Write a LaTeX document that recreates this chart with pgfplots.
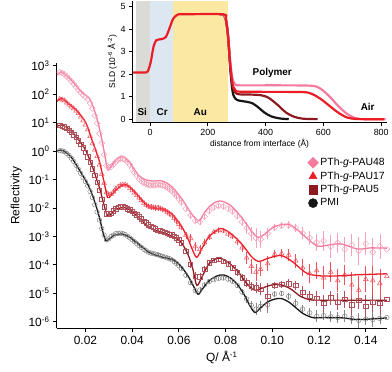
\documentclass[border=0pt]{standalone}
\usepackage{fontspec}
\setmainfont{Liberation Sans}
\usepackage{pgfplots}
\usepackage{pgfplotstable}
\pgfplotsset{compat=1.18}

\definecolor{pinkln}{HTML}{F47A9E}
\definecolor{pinkmk}{HTML}{F6A3BA}
\definecolor{redln}{HTML}{EC1C26}
\definecolor{redmk}{HTML}{F0505C}
\definecolor{dredln}{HTML}{8C1A1E}
\definecolor{dredmk}{HTML}{B0505A}
\definecolor{blkln}{HTML}{161616}
\definecolor{blkmk}{HTML}{858585}
\definecolor{sigray}{HTML}{DADAD6}
\definecolor{crblue}{HTML}{DCE7F1}
\definecolor{auyel}{HTML}{FBE8A2}

% Q, log10(R), log10 half-width of error bar
\pgfplotstableread{
Q L E
0.009 0.02 0
0.011 -0.02 0
0.013 -0.15 0
0.015 -0.36 0
0.017 -0.64 0
0.019 -0.93 0
0.021 -1.22 0
0.023 -1.63 0
0.025 -2.14 0
0.027 -2.72 0
0.029 -3.12 0
0.031 -3.00 0
0.033 -2.90 0.03
0.035 -2.88 0.03
0.037 -2.93 0.03
0.039 -3.05 0.03
0.041 -3.18 0.03
0.043 -3.32 0.03
0.045 -3.45 0.04
0.047 -3.55 0.04
0.049 -3.60 0.04
0.051 -3.64 0.05
0.053 -3.70 0.05
0.055 -3.75 0.05
0.057 -3.82 0.05
0.059 -3.95 0.05
0.061 -4.12 0.06
0.063 -4.36 0.06
0.065 -4.62 0.08
0.067 -4.90 0.1
0.069 -4.88 0.1
0.071 -4.70 0.08
0.073 -4.58 0.06
0.075 -4.52 0.06
0.077 -4.47 0.06
0.079 -4.46 0.06
0.081 -4.50 0.07
0.083 -4.58 0.07
0.085 -4.72 0.08
0.087 -4.95 0.1
0.089 -5.20 0.12
0.091 -5.42 0.15
0.093 -5.55 0.2
0.095 -5.45 0.2
0.098 -5.40 0.3
0.101 -5.02 0.1
0.104 -5.00 0.1
0.107 -5.10 0.12
0.110 -5.35 0.15
0.113 -5.55 0.15
0.116 -5.68 0.15
0.119 -5.80 0.2
0.122 -5.78 0.15
0.125 -5.82 0.2
0.128 -5.85 0.2
0.131 -5.80 0.2
0.134 -5.88 0.2
0.137 -5.95 0.25
0.140 -5.90 0.2
0.143 -5.92 0.25
0.146 -5.88 0.2
0.149 -5.85 0.25
0.010 0.01 0
0.012 -0.08 0
0.014 -0.25 0
0.016 -0.50 0
0.018 -0.78 0
0.020 -1.07 0
0.022 -1.42 0
0.024 -1.88 0
0.026 -2.42 0
0.028 -2.95 0
0.030 -3.08 0.03
0.032 -2.95 0.03
0.034 -2.89 0.03
0.036 -2.90 0.03
0.038 -2.99 0.03
0.040 -3.11 0.03
0.042 -3.25 0.03
0.044 -3.38 0.04
0.046 -3.50 0.04
0.048 -3.58 0.04
0.050 -3.62 0.05
0.052 -3.67 0.05
0.054 -3.72 0.05
0.056 -3.78 0.05
0.058 -3.88 0.05
0.060 -4.03 0.06
}\pmidata

\pgfplotstableread{
Q L E
0.009 0.90 0
0.011 0.86 0
0.013 0.74 0
0.015 0.58 0
0.017 0.36 0
0.019 0.12 0
0.021 -0.20 0
0.023 -0.62 0
0.025 -1.10 0
0.027 -1.68 0
0.029 -2.20 0.04
0.031 -2.18 0.04
0.033 -2.02 0.04
0.035 -1.96 0.04
0.037 -1.98 0.04
0.039 -2.06 0.05
0.041 -2.18 0.05
0.043 -2.30 0.05
0.045 -2.46 0.06
0.047 -2.58 0.06
0.049 -2.68 0.06
0.051 -2.78 0.07
0.053 -2.82 0.07
0.055 -2.88 0.07
0.057 -2.94 0.08
0.059 -3.04 0.08
0.061 -3.22 0.08
0.063 -3.52 0.1
0.065 -3.98 0.12
0.067 -4.40 0.15
0.069 -4.42 0.15
0.071 -4.15 0.1
0.073 -3.92 0.08
0.075 -3.83 0.08
0.077 -3.80 0.08
0.079 -3.86 0.08
0.081 -3.96 0.1
0.083 -4.10 0.1
0.085 -4.26 0.12
0.087 -4.45 0.12
0.089 -4.62 0.15
0.091 -4.75 0.15
0.093 -4.80 0.2
0.095 -4.85 0.2
0.098 -5.10 0.45
0.101 -4.72 0.12
0.104 -4.68 0.12
0.107 -4.66 0.15
0.110 -4.72 0.15
0.113 -4.95 0.2
0.116 -5.10 0.2
0.119 -5.18 0.25
0.122 -5.35 0.3
0.125 -5.15 0.25
0.128 -5.30 0.3
0.131 -5.20 0.3
0.134 -5.40 0.35
0.137 -5.25 0.3
0.140 -5.45 0.4
0.143 -5.30 0.35
0.146 -5.35 0.4
0.149 -5.20 0.3
0.010 0.88 0
0.012 0.81 0
0.014 0.66 0
0.016 0.48 0
0.018 0.25 0
0.020 -0.03 0
0.022 -0.40 0
0.024 -0.85 0
0.026 -1.38 0
0.028 -1.95 0
0.030 -2.20 0.04
0.032 -2.10 0.04
0.034 -1.98 0.04
0.036 -1.96 0.04
0.038 -2.02 0.04
0.040 -2.12 0.05
0.042 -2.24 0.05
0.044 -2.38 0.05
0.046 -2.52 0.06
0.048 -2.63 0.06
0.050 -2.73 0.06
0.052 -2.80 0.07
0.054 -2.85 0.07
0.056 -2.91 0.07
0.058 -2.99 0.08
0.060 -3.12 0.08
}\paufivedata

\pgfplotstableread{
Q L E
0.009 1.83 0
0.011 1.78 0
0.013 1.63 0
0.015 1.50 0
0.017 1.33 0
0.019 1.08 0
0.021 0.76 0
0.023 0.27 0
0.025 -0.18 0
0.027 -0.80 0
0.029 -1.45 0.05
0.031 -1.52 0.05
0.033 -1.32 0.04
0.035 -1.20 0.04
0.037 -1.18 0.04
0.039 -1.30 0.05
0.041 -1.46 0.05
0.043 -1.64 0.06
0.045 -1.82 0.07
0.047 -1.95 0.1
0.049 -1.98 0.1
0.051 -2.00 0.1
0.053 -2.05 0.08
0.055 -2.14 0.08
0.057 -2.26 0.08
0.059 -2.45 0.1
0.061 -2.68 0.1
0.063 -2.95 0.12
0.065 -3.05 0.15
0.067 -3.35 0.15
0.069 -3.45 0.15
0.071 -3.22 0.12
0.073 -3.02 0.1
0.075 -2.84 0.08
0.077 -2.78 0.08
0.079 -2.80 0.08
0.081 -2.90 0.1
0.083 -3.00 0.1
0.085 -3.18 0.12
0.087 -3.40 0.15
0.089 -3.75 0.2
0.091 -4.05 0.25
0.093 -4.25 0.3
0.095 -4.15 0.25
0.098 -3.95 0.25
0.101 -3.62 0.15
0.104 -3.60 0.15
0.107 -3.65 0.2
0.110 -3.85 0.25
0.113 -4.10 0.3
0.116 -4.30 0.35
0.119 -4.20 0.3
0.122 -4.45 0.4
0.125 -4.25 0.35
0.128 -4.55 0.4
0.131 -4.35 0.35
0.134 -4.70 0.45
0.137 -4.88 0.5
0.140 -4.50 0.45
0.143 -4.55 0.5
0.146 -4.65 0.5
0.149 -4.40 0.45
0.010 1.81 0
0.012 1.70 0
0.014 1.56 0
0.016 1.42 0
0.018 1.21 0
0.020 0.93 0
0.022 0.52 0
0.024 0.05 0
0.026 -0.48 0
0.028 -1.12 0
0.030 -1.52 0.05
0.032 -1.43 0.05
0.034 -1.25 0.04
0.036 -1.18 0.04
0.038 -1.23 0.04
0.040 -1.38 0.05
0.042 -1.55 0.05
0.044 -1.73 0.06
0.046 -1.89 0.08
0.048 -1.97 0.1
0.050 -1.99 0.1
0.052 -2.02 0.08
0.054 -2.09 0.08
0.056 -2.20 0.08
0.058 -2.35 0.1
0.060 -2.56 0.1
}\pauseventeendata

\pgfplotstableread{
Q L E
0.009 2.78 0
0.011 2.70 0
0.013 2.55 0
0.015 2.36 0
0.017 2.15 0
0.019 1.97 0
0.021 1.82 0
0.023 1.50 0
0.025 0.98 0
0.027 0.28 0
0.029 -0.50 0.04
0.031 -0.55 0.04
0.033 -0.38 0.04
0.035 -0.26 0.04
0.037 -0.30 0.04
0.039 -0.48 0.05
0.041 -0.75 0.05
0.043 -0.98 0.05
0.045 -1.12 0.06
0.047 -1.18 0.07
0.049 -1.20 0.07
0.051 -1.18 0.07
0.053 -1.20 0.07
0.055 -1.28 0.07
0.057 -1.40 0.08
0.059 -1.58 0.08
0.061 -1.80 0.1
0.063 -2.02 0.1
0.065 -2.25 0.12
0.067 -2.45 0.12
0.069 -2.48 0.12
0.071 -2.30 0.1
0.073 -2.10 0.1
0.075 -1.98 0.08
0.077 -1.92 0.08
0.079 -1.94 0.08
0.081 -2.02 0.1
0.083 -2.12 0.1
0.085 -2.28 0.12
0.087 -2.48 0.15
0.089 -2.70 0.2
0.091 -2.90 0.25
0.093 -3.05 0.35
0.095 -3.10 0.3
0.098 -2.90 0.2
0.101 -2.68 0.12
0.104 -2.62 0.12
0.107 -2.60 0.15
0.110 -2.70 0.15
0.113 -2.88 0.2
0.116 -3.05 0.25
0.119 -3.20 0.3
0.122 -3.15 0.35
0.125 -3.35 0.4
0.128 -3.22 0.35
0.131 -3.45 0.45
0.134 -3.30 0.4
0.137 -3.50 0.5
0.140 -3.25 0.4
0.143 -3.55 0.5
0.146 -3.35 0.45
0.149 -3.45 0.4
0.010 2.75 0
0.012 2.63 0
0.014 2.46 0
0.016 2.26 0
0.018 2.06 0
0.020 1.90 0
0.022 1.68 0
0.024 1.25 0
0.026 0.62 0
0.028 -0.12 0
0.030 -0.56 0.04
0.032 -0.47 0.04
0.034 -0.31 0.04
0.036 -0.27 0.04
0.038 -0.38 0.04
0.040 -0.62 0.05
0.042 -0.87 0.05
0.044 -1.06 0.05
0.046 -1.16 0.06
0.048 -1.20 0.07
0.050 -1.19 0.07
0.052 -1.19 0.07
0.054 -1.24 0.07
0.056 -1.34 0.07
0.058 -1.49 0.08
0.060 -1.69 0.08
}\paufortyeightdata

\begin{document}
\begin{tikzpicture}
\path (0,0) rectangle (392pt,373pt);

\begin{axis}[
  at={(57.3pt,43pt)}, anchor=south west,
  scale only axis, width=332.2pt, height=267pt,
  xmin=0.0078, xmax=0.149, ymin=-6.23, ymax=3.09,
  axis x line*=bottom, axis y line*=left,
  axis line style={line width=1pt},
  tick align=outside, major tick length=4pt,
  tick style={line width=1pt,black},
  xtick={0.02,0.04,0.06,0.08,0.10,0.12,0.14},
  xticklabels={0.02,0.04,0.06,0.08,0.10,0.12,0.14},
  ytick={-6,-5,-4,-3,-2,-1,0,1,2,3},
  yticklabels={10\textsuperscript{-6},10\textsuperscript{-5},10\textsuperscript{-4},10\textsuperscript{-3},10\textsuperscript{-2},10\textsuperscript{-1},10\textsuperscript{0},10\textsuperscript{1},10\textsuperscript{2},10\textsuperscript{3}},
  tick label style={font=\fontsize{12}{14}\selectfont},
  xlabel={Q/ Å\textsuperscript{-1}}, ylabel={Reflectivity},
  label style={font=\fontsize{12}{14}\selectfont},
  legend style={at={(1,0.65)}, anchor=north east, draw=none, fill=none,
    font=\fontsize{10.5}{12}\selectfont, row sep=0.5pt, inner sep=0pt},
  legend cell align=left,
  error bars/error mark=none,
]
\addlegendimage{only marks, mark=square*, mark size=3.9pt, mark options={rotate=45, fill=pinkln, draw=pinkln}}
\addlegendentry{PTh-\textit{g}-PAU48}
\addlegendimage{only marks, mark=triangle*, mark size=4.6pt, mark options={fill=redln, draw=redln}}
\addlegendentry{PTh-\textit{g}-PAU17}
\addlegendimage{only marks, mark=square*, mark size=4.3pt, mark options={fill=dredln, draw=dredln}}
\addlegendentry{PTh-\textit{g}-PAU5}
\addlegendimage{only marks, mark=*, mark size=4.6pt, mark options={fill=blkln, draw=blkln}}
\addlegendentry{PMI}

% measured data
\addplot[forget plot, only marks, mark=o, mark size=2.3pt, blkmk, line width=0.5pt,
  error bars/.cd, y dir=both, y explicit, error bar style={line width=0.6pt, blkmk}]
  table[x=Q, y=L, y error=E] {\pmidata};
\addplot[forget plot, only marks, mark=square, mark size=2.2pt, dredmk, line width=0.5pt,
  error bars/.cd, y dir=both, y explicit, error bar style={line width=0.6pt, dredmk}]
  table[x=Q, y=L, y error=E] {\paufivedata};
\addplot[forget plot, only marks, mark=triangle, mark size=2.7pt, redmk, line width=0.5pt,
  error bars/.cd, y dir=both, y explicit, error bar style={line width=0.6pt, redmk}]
  table[x=Q, y=L, y error=E] {\pauseventeendata};
\addplot[forget plot, only marks, mark=square, mark size=2.1pt, mark options={rotate=45}, pinkmk, line width=0.5pt,
  error bars/.cd, y dir=both, y explicit, error bar style={line width=0.6pt, pinkmk}]
  table[x=Q, y=L, y error=E] {\paufortyeightdata};

% fits
\addplot[forget plot, blkln, line width=1.3pt, smooth, tension=0.5] coordinates {
(0.0078,0.00) (0.0095,0.04) (0.0115,-0.03) (0.014,-0.22) (0.016,-0.47) (0.019,-0.88)
(0.0217,-1.28) (0.024,-1.78) (0.026,-2.33) (0.0275,-2.85) (0.0288,-3.15) (0.030,-3.10)
(0.032,-2.97) (0.0352,-2.91) (0.038,-2.98) (0.041,-3.15) (0.044,-3.35) (0.047,-3.55)
(0.050,-3.65) (0.053,-3.73) (0.056,-3.78) (0.0583,-3.85) (0.061,-4.05) (0.064,-4.40)
(0.066,-4.70) (0.0682,-5.03) (0.070,-4.85) (0.073,-4.55) (0.0765,-4.38) (0.0791,-4.35)
(0.082,-4.45) (0.085,-4.68) (0.088,-5.05) (0.0905,-5.45) (0.0926,-5.67) (0.095,-5.50)
(0.098,-5.30) (0.101,-5.20) (0.1039,-5.18) (0.107,-5.30) (0.110,-5.50) (0.113,-5.70)
(0.116,-5.82) (0.118,-5.86) (0.122,-5.85) (0.130,-5.86) (0.137,-5.92) (0.149,-5.86)};
\addplot[forget plot, dredln, line width=1.3pt, smooth, tension=0.5] coordinates {
(0.0078,0.87) (0.0097,0.92) (0.012,0.84) (0.014,0.70) (0.016,0.52) (0.018,0.30)
(0.0203,0.00) (0.023,-0.55) (0.026,-1.28) (0.028,-1.90) (0.0295,-2.27) (0.031,-2.20)
(0.033,-2.05) (0.0366,-1.98) (0.040,-2.12) (0.043,-2.35) (0.0458,-2.57) (0.049,-2.75)
(0.0529,-2.85) (0.056,-2.95) (0.0595,-3.10) (0.0614,-3.25) (0.064,-3.65) (0.066,-4.15)
(0.0677,-4.72) (0.070,-4.40) (0.073,-3.95) (0.077,-3.76) (0.081,-3.90) (0.0855,-4.25)
(0.089,-4.65) (0.0926,-4.89) (0.096,-4.80) (0.100,-4.70) (0.1039,-4.70) (0.108,-4.85)
(0.112,-5.10) (0.116,-5.22) (0.120,-5.24) (0.130,-5.24) (0.149,-5.24)};
\addplot[forget plot, redln, line width=1.3pt, smooth, tension=0.5] coordinates {
(0.0078,1.74) (0.0097,1.86) (0.012,1.72) (0.014,1.58) (0.016,1.45) (0.018,1.25)
(0.0203,0.98) (0.023,0.35) (0.026,-0.36) (0.028,-1.10) (0.0295,-1.63) (0.031,-1.55)
(0.034,-1.30) (0.0373,-1.17) (0.041,-1.42) (0.0458,-1.87) (0.049,-2.00) (0.0529,-2.03)
(0.057,-2.20) (0.0614,-2.68) (0.064,-3.10) (0.066,-3.50) (0.0677,-3.73) (0.070,-3.40)
(0.073,-3.00) (0.0777,-2.72) (0.082,-2.88) (0.0869,-3.26) (0.091,-3.70) (0.094,-3.88)
(0.097,-3.80) (0.100,-3.72) (0.1039,-3.67) (0.108,-3.85) (0.1124,-4.15) (0.1152,-4.31)
(0.120,-4.38) (0.1266,-4.39) (0.135,-4.35) (0.149,-4.31)};
\addplot[forget plot, pinkln, line width=1.3pt, smooth, tension=0.5] coordinates {
(0.0078,2.67) (0.0097,2.79) (0.012,2.65) (0.0146,2.44) (0.017,2.20) (0.0189,2.03)
(0.0217,1.86) (0.024,1.40) (0.026,0.81) (0.028,0.00) (0.0295,-0.65) (0.031,-0.52)
(0.033,-0.30) (0.0359,-0.18) (0.039,-0.40) (0.0425,-0.82) (0.0455,-1.00) (0.049,-1.05)
(0.0529,-1.05) (0.057,-1.25) (0.0614,-1.69) (0.065,-2.15) (0.0685,-2.45) (0.071,-2.15)
(0.074,-1.88) (0.0777,-1.75) (0.082,-1.90) (0.0869,-2.33) (0.091,-2.80) (0.094,-3.03)
(0.097,-2.90) (0.101,-2.65) (0.1067,-2.57) (0.111,-2.78) (0.1152,-3.09) (0.1195,-3.34)
(0.124,-3.30) (0.1294,-3.26) (0.1365,-3.44) (0.142,-3.40) (0.149,-3.41)};
\end{axis}

\begin{axis}[
  at={(133pt,250.3pt)}, anchor=south west,
  scale only axis, width=256.7pt, height=122.6pt,
  xmin=-62, xmax=820, ymin=-0.15, ymax=5.25,
  axis x line*=bottom, axis y line*=left,
  axis line style={line width=0.9pt},
  tick align=outside, major tick length=3pt,
  tick style={line width=0.9pt,black},
  xtick={0,200,400,600,800}, ytick={0,1,2,3,4,5},
  tick label style={font=\fontsize{9}{10}\selectfont, /pgf/number format/assume math mode=true},
  xlabel={distance from interface (Å)},
  ylabel={SLD (10\textsuperscript{-6} Å\textsuperscript{-2})},
  label style={font=\fontsize{8.5}{10}\selectfont},
  xlabel style={yshift=3pt}, ylabel style={yshift=-3pt},
  axis on top,
]
\fill[sigray] (axis cs:-50,-0.15) rectangle (axis cs:0,5.25);
\fill[crblue] (axis cs:0,-0.15) rectangle (axis cs:80,5.25);
\fill[auyel] (axis cs:80,-0.15) rectangle (axis cs:270,5.25);

\addplot[blkln, line width=2.2pt, smooth, tension=0.5] coordinates {
(240,4.65) (252,4.65) (262,4.45) (270,3.7) (278,2.2) (286,1.2) (296,0.9) (310,0.82)
(335,0.77) (355,0.70) (375,0.52) (395,0.30) (420,0.12) (450,0.03) (480,0.0)};
\addplot[dredln, line width=2.2pt, smooth, tension=0.5] coordinates {
(240,4.65) (252,4.65) (262,4.45) (270,3.7) (278,2.3) (286,1.45) (296,1.17) (310,1.10)
(350,1.09) (385,1.06) (410,0.95) (440,0.65) (470,0.30) (500,0.10) (530,0.02) (580,0.0)};
\addplot[pinkln, line width=2.2pt, smooth, tension=0.5] coordinates {
(240,4.65) (252,4.65) (262,4.45) (270,3.7) (278,2.5) (286,1.75) (296,1.54) (310,1.50)
(450,1.50) (560,1.48) (590,1.35) (620,1.02) (650,0.60) (680,0.25) (710,0.05) (740,0.0) (815,0.0)};
\addplot[redln, line width=2.2pt, smooth, tension=0.5] coordinates {
(-60,2.07) (-20,2.07) (-8,2.12) (2,2.5) (12,3.2) (22,3.5) (40,3.55) (55,3.65) (68,4.05)
(80,4.45) (95,4.63) (115,4.65) (252,4.65) (262,4.45) (270,3.7) (278,2.4) (286,1.55)
(296,1.28) (310,1.22) (420,1.21) (530,1.20) (560,1.12) (590,0.90) (620,0.60) (650,0.30)
(680,0.08) (710,0.01) (740,0.0) (810,0.0)};

\node[font=\bfseries\fontsize{10}{12}\selectfont] at (axis cs:-27,0.3) {Si};
\node[font=\bfseries\fontsize{10}{12}\selectfont] at (axis cs:42,0.3) {Cr};
\node[font=\bfseries\fontsize{10}{12}\selectfont] at (axis cs:174,0.3) {Au};
\node[font=\bfseries\fontsize{10}{12}\selectfont] at (axis cs:423,2.05) {Polymer};
\node[font=\bfseries\fontsize{10}{12}\selectfont] at (axis cs:753,0.53) {Air};
\end{axis}
\end{tikzpicture}
\end{document}
